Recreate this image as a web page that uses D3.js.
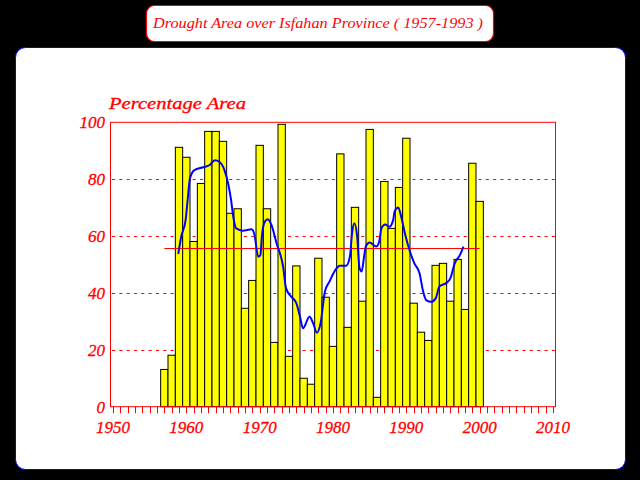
<!DOCTYPE html>
<html>
<head>
<meta charset="utf-8">
<script src="https://cdn.jsdelivr.net/npm/d3@7"></script>
<style>
  html, body { margin: 0; padding: 0; background: #000; }
</style>
</head>
<body>
<div id="chart"></div>
<script>
const width = 640, height = 480

const titleText = 'Drought Area over Isfahan Province ( 1957-1993 )'
const axisTitle = 'Percentage Area'

// bars, one per year
const years = d3.range(1957, 2001)
const areas = [
    13.1, 18.1, 91.2, 87.7, 58.1, 78.5, 96.8, 96.8, 93.3, 68.0,
    69.6, 34.6, 44.4, 91.9, 69.6, 22.6, 99.3, 17.7, 49.5, 10.0,
     7.9, 52.2, 38.5, 21.2, 88.9, 27.9, 70.1, 37.1, 97.5,  3.3,
    79.2, 62.7, 77.1, 94.4, 36.4, 26.2, 23.3, 49.7, 50.4, 37.1,
    51.8, 34.2, 85.6, 72.2
]

// smoothed curve (blue)
const smoothYears = [
    1958.9, 1959.3, 1959.9, 1960.2, 1960.5, 1961.1, 1962.3, 1963.2, 1963.9, 1964.5,
    1965.2, 1965.7, 1966.1, 1966.4, 1966.8, 1967.7, 1968.9, 1969.3, 1969.8, 1970.1,
    1970.3, 1970.7, 1971.1, 1971.6, 1972.3, 1973.2, 1973.6, 1974.3, 1975.0, 1975.5,
    1975.9, 1976.8, 1977.3, 1977.8, 1978.3, 1978.9, 1979.5, 1980.5, 1980.9, 1981.8,
    1982.3, 1982.6, 1982.9, 1983.3, 1983.6, 1983.9, 1984.3, 1984.5, 1985.0, 1985.9,
    1986.3, 1986.6, 1987.1, 1987.7, 1988.2, 1988.4, 1988.9, 1989.3, 1989.8, 1990.5,
    1991.1, 1991.8, 1992.3, 1992.7, 1993.4, 1994.0, 1994.5, 1995.5, 1996.0, 1996.6,
    1997.3, 1997.8
]
const smoothValues = [
    53.7, 59.8, 65.6, 73.3, 80.3, 83.2, 84.2, 85.0, 86.7, 86.1,
    83.2, 78.5, 72.7, 66.8, 62.7, 61.9, 62.4, 60.4, 52.7, 53.3,
    59.8, 65.0, 65.9, 63.9, 57.5, 49.2, 41.6, 38.7, 36.4, 31.6,
    27.6, 31.6, 29.3, 26.0, 29.3, 40.5, 43.9, 48.7, 49.6, 49.6,
    52.7, 61.0, 64.5, 59.8, 49.0, 47.5, 53.9, 56.5, 57.7, 56.3,
    58.0, 62.7, 64.1, 63.3, 65.6, 68.6, 70.0, 66.8, 61.0, 54.5,
    50.4, 46.9, 40.4, 37.5, 36.9, 38.1, 42.2, 43.6, 45.1, 50.4,
    53.3, 56.3
]

const meanArea = 55.8
const yTicks = [0, 20, 40, 60, 80, 100]
const xTicks = [1950, 1960, 1970, 1980, 1990, 2000, 2010]

const xScale = d3.scaleLinear().domain([1950, 2010]).range([113, 553])
const yScale = d3.scaleLinear().domain([0, 100]).range([406.7, 122.3])
const yearW = xScale(1951) - xScale(1950)

const font = '"Liberation Serif", "DejaVu Serif", serif'

const svg = d3.select('#chart').append('svg')
              .attr('width', width)
              .attr('height', height)
              .style('display', 'block')
              .style('background', '#000')

// title box
svg.append('rect')
   .attr('x', 146.5).attr('y', 5.5)
   .attr('width', 347).attr('height', 36)
   .attr('rx', 8)
   .style('fill', '#fff')
   .style('stroke', '#ff0000')
   .style('stroke-width', 1.2)

svg.append('text')
   .text(titleText)
   .attr('x', 153).attr('y', 28)
   .attr('textLength', 330)
   .attr('lengthAdjust', 'spacingAndGlyphs')
   .style('font-family', font)
   .style('font-style', 'italic')
   .style('font-size', '14px')
   .style('fill', '#ff0000')

// white panel
svg.append('rect')
   .attr('x', 15.5).attr('y', 47.5)
   .attr('width', 610).attr('height', 422)
   .attr('rx', 10)
   .style('fill', '#fff')
   .style('stroke', '#0000ff')
   .style('stroke-width', 1)

svg.append('text')
   .text(axisTitle)
   .attr('x', 109).attr('y', 108.5)
   .attr('textLength', 137)
   .attr('lengthAdjust', 'spacingAndGlyphs')
   .style('font-family', font)
   .style('font-style', 'italic')
   .style('font-size', '17px')
   .style('fill', '#ff0000')
   .style('stroke', '#ff0000')
   .style('stroke-width', 0.3)

const graph = svg.append('g')

// dotted grid lines
graph.selectAll('.grid')
     .data(yTicks.filter(d => d > 0 && d < 100))
     .join('line')
     .attr('x1', 112).attr('x2', 555)
     .attr('y1', d => Math.round(yScale(d)) + 0.5)
     .attr('y2', d => Math.round(yScale(d)) + 0.5)
     .style('stroke', '#ff0000')
     .style('stroke-width', 1)
     .style('stroke-dasharray', '3,4.33')

// bars
graph.selectAll('.bar')
     .data(years)
     .join('rect')
     .attr('x', d => xScale(d) - yearW / 2)
     .attr('width', yearW)
     .attr('y', (d, i) => yScale(areas[i]))
     .attr('height', (d, i) => yScale(0) - yScale(areas[i]))
     .style('fill', '#ffff00')
     .style('stroke', '#000')
     .style('stroke-width', 1)

// frame
graph.append('rect')
     .attr('x', 110.5).attr('y', 122.3)
     .attr('width', 445).attr('height', yScale(0) - yScale(100))
     .style('fill', 'none')
     .style('stroke', '#ff0000')
     .style('stroke-width', 1)

// year ticks
graph.selectAll('.tick')
     .data(d3.range(1950, 2011))
     .join('line')
     .attr('x1', d => Math.round(xScale(d)) + 0.5)
     .attr('x2', d => Math.round(xScale(d)) + 0.5)
     .attr('y1', yScale(0))
     .attr('y2', yScale(0) + 6.5)
     .style('stroke', '#ff0000')
     .style('stroke-width', 1)

// mean line
graph.append('line')
     .attr('x1', xScale(1957)).attr('x2', xScale(2000))
     .attr('y1', Math.round(yScale(meanArea)) + 0.5)
     .attr('y2', Math.round(yScale(meanArea)) + 0.5)
     .style('stroke', '#ff0000')
     .style('stroke-width', 1.2)

// smoothed curve
const line = d3.line()
               .x(d => xScale(d[0]))
               .y(d => yScale(d[1]))
               .curve(d3.curveMonotoneX)

graph.append('path')
     .datum(smoothYears.map((y, i) => [y, smoothValues[i]]))
     .attr('d', line)
     .style('fill', 'none')
     .style('stroke', '#0000ff')
     .style('stroke-width', 2)

// axis labels
graph.selectAll('.ylab')
     .data(yTicks)
     .join('text')
     .text(d => d)
     .attr('x', 105)
     .attr('y', d => yScale(d) + 6)
     .attr('text-anchor', 'end')
     .style('font-family', font)
     .style('font-style', 'italic')
     .style('font-size', '17px')
     .style('fill', '#ff0000')
     .style('stroke', '#ff0000')
     .style('stroke-width', 0.3)

graph.selectAll('.xlab')
     .data(xTicks)
     .join('text')
     .text(d => d)
     .attr('x', d => xScale(d))
     .attr('y', 433)
     .attr('text-anchor', 'middle')
     .style('font-family', font)
     .style('font-style', 'italic')
     .style('font-size', '17px')
     .style('fill', '#ff0000')
     .style('stroke', '#ff0000')
     .style('stroke-width', 0.3)
</script>
</body>
</html>
